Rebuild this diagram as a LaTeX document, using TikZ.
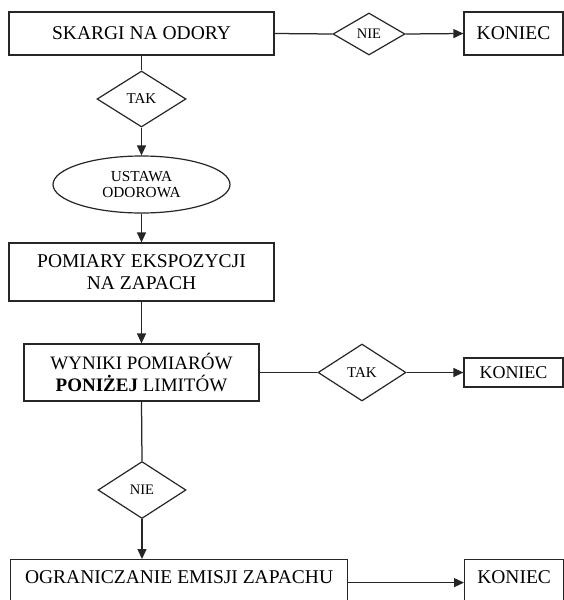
\documentclass[tikz,border=0pt]{standalone}
\usepackage{fontspec}
\setmainfont{Liberation Serif}
\usetikzlibrary{shapes.geometric,arrows.meta}
\begin{document}
\begin{tikzpicture}[x=1pt,y=-1pt,
  ln/.style={draw=black!85, line width=1.25pt},
  arr/.style={ln, -{Triangle[length=10pt,width=9pt]}},
  box/.style={draw=black!85, line width=1.2pt, rectangle, inner sep=0pt, align=center, font=\fontsize{19.5}{22}\selectfont},
  dia/.style={draw=black!85, line width=1.2pt, diamond, inner sep=0pt, font=\fontsize{15}{17}\selectfont},
  ell/.style={draw=black!85, line width=1.2pt, ellipse, inner sep=0pt, align=center, font=\fontsize{15.3}{16.5}\selectfont},
]
\useasboundingbox (0,0) rectangle (564,600);
\fill[white] (0,0) rectangle (564,600);
\clip (0,0) rectangle (564,600);

% top row
\node[box, minimum width=265pt, minimum height=43pt] (skargi) at (141.5,33.5) {SKARGI NA ODORY};
\node[dia, minimum width=72pt, minimum height=42pt, font=\fontsize{14.5}{17}\selectfont] (nie1) at (369,34) {NIE};
\node[box, minimum width=99pt, minimum height=43pt] (koniec1) at (513.5,33.5) {KONIEC};

\node[dia, minimum width=89pt, minimum height=56pt] (tak1) at (141.5,99) {TAK};
\node[ell, minimum width=177pt, minimum height=57pt] (ustawa) at (141.5,184.5) {USTAWA\\ODOROWA};
\node[box, minimum width=265pt, minimum height=58pt] (pomiary) at (141.5,272) {POMIARY EKSPOZYCJI\\NA ZAPACH};

% middle row
\node[box, minimum width=235pt, minimum height=57pt, font=\fontsize{19}{21.5}\selectfont] (wyniki) at (141.5,372.5) {WYNIKI POMIARÓW\\\textbf{PONIŻEJ} LIMITÓW};
\node[dia, minimum width=88pt, minimum height=57pt] (tak2) at (362,372.5) {TAK};
\node[box, minimum width=99pt, minimum height=29pt, font=\fontsize{18}{20}\selectfont] (koniec2) at (513.5,372.5) {KONIEC};

\node[dia, minimum width=88pt, minimum height=57pt, font=\fontsize{14.5}{17}\selectfont] (nie2) at (142,490) {NIE};

% bottom row (cut by the page edge)
\node[box, anchor=north west, minimum width=337pt, text height=14pt, text depth=30pt, inner ysep=10pt] (ogr) at (10,559) {OGRANICZANIE EMISJI ZAPACHU};
\node[box, anchor=north west, minimum width=99pt, text height=14pt, text depth=30pt, inner ysep=10pt] (koniec3) at (464,559) {KONIEC};

% connectors
\draw[ln] (skargi.east) -- (nie1.west);
\draw[arr] (nie1.east) -- (koniec1.west);
\draw[ln] (skargi.south) -- (tak1.north);
\draw[arr] (tak1.south) -- (ustawa.north);
\draw[arr] (ustawa.south) -- (pomiary.north);
\draw[arr] (pomiary.south) -- (wyniki.north);
\draw[ln] (wyniki.east) -- (tak2.west);
\draw[arr] (tak2.east) -- (koniec2.west);
\draw[ln] (wyniki.south) -- (nie2.north);
\draw[arr] (nie2.south) -- (nie2.south |- ogr.north);
\draw[arr] ([yshift=1pt]ogr.base east) -- ([yshift=1pt]koniec3.base west);
\end{tikzpicture}
\end{document}
